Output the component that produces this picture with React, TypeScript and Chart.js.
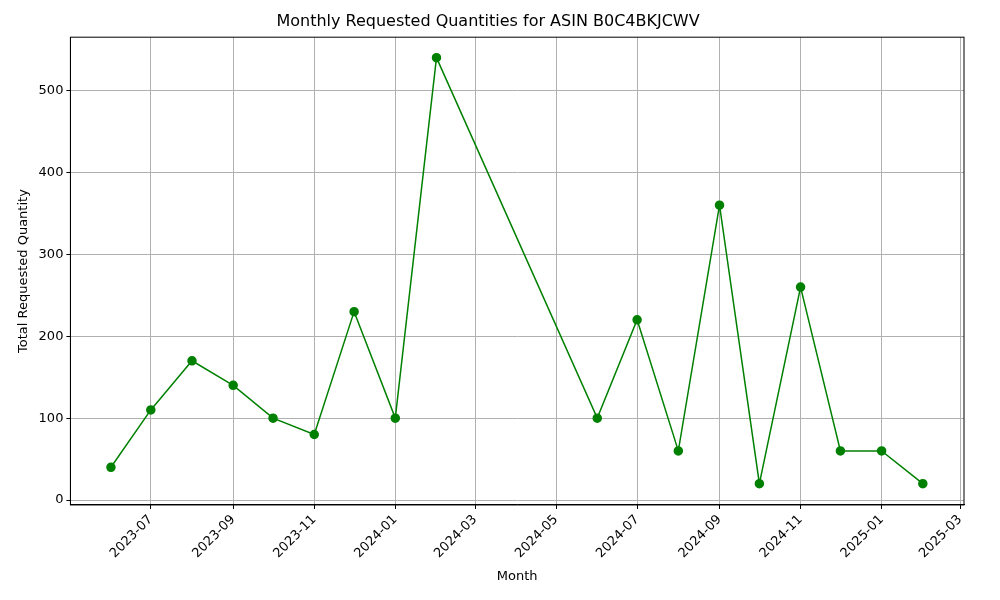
import React, { useEffect, useRef } from "react";
import Chart from "chart.js/auto";

const months = [
  "2023-06", "2023-07", "2023-08", "2023-09", "2023-10", "2023-11", "2023-12",
  "2024-01", "2024-02", "2024-06", "2024-07", "2024-08", "2024-09", "2024-10",
  "2024-11", "2024-12", "2025-01", "2025-02",
];
const quantities = [40, 110, 170, 140, 100, 80, 230, 100, 540, 100, 220, 60, 360, 20, 260, 60, 60, 20];
const tickLabels = [
  "2023-07", "2023-09", "2023-11", "2024-01", "2024-03", "2024-05",
  "2024-07", "2024-09", "2024-11", "2025-01", "2025-03",
];

const toDay = (m: string) => {
  const [y, mo] = m.split("-").map(Number);
  return Date.UTC(y, mo - 1, 1) / 86400000;
};

// matplotlib-style full frame around the plot area
const framePlugin = {
  id: "frame",
  afterDraw(chart: any) {
    const { ctx, chartArea: a } = chart;
    ctx.save();
    ctx.strokeStyle = "#000";
    ctx.lineWidth = 1;
    ctx.strokeRect(a.left, a.top, a.right - a.left, a.bottom - a.top);
    ctx.restore();
  },
};

const App: React.FC = () => {
  const canvasRef = useRef<HTMLCanvasElement | null>(null);

  useEffect(() => {
    if (!canvasRef.current) return;
    const font = { family: "DejaVu Sans", size: 13 };
    const tickDays = tickLabels.map(toDay);
    const chart = new Chart(canvasRef.current, {
      type: "line",
      data: {
        datasets: [
          {
            data: months.map((m, i) => ({ x: toDay(m), y: quantities[i] })),
            borderColor: "green",
            backgroundColor: "green",
            borderWidth: 1.5,
            pointRadius: 4,
            pointHoverRadius: 4,
            tension: 0,
          },
        ],
      },
      plugins: [framePlugin],
      options: {
        animation: false,
        responsive: false,
        layout: { padding: { left: 12, right: 36, top: 2, bottom: 12 } },
        plugins: {
          legend: { display: false },
          tooltip: { enabled: false },
          title: {
            display: true,
            text: "Monthly Requested Quantities for ASIN B0C4BKJCWV",
            color: "#000",
            font: { family: "DejaVu Sans", size: 16, weight: "normal" },
            padding: { top: 10, bottom: 6 },
          },
        },
        scales: {
          x: {
            type: "linear",
            min: toDay("2023-06") - 30.5,
            max: toDay("2025-02") + 31,
            afterBuildTicks: (axis: any) => {
              axis.ticks = tickDays.map((v) => ({ value: v }));
            },
            ticks: {
              color: "#000",
              font,
              maxRotation: 45,
              minRotation: 45,
              callback: (v: any) => {
                const i = tickDays.indexOf(Number(v));
                return i >= 0 ? tickLabels[i] : "";
              },
            },
            grid: { color: "#b0b0b0", tickColor: "#000", tickLength: 4 },
            border: { color: "#000" },
            title: { display: true, text: "Month", color: "#000", font },
          },
          y: {
            min: -6,
            max: 565,
            afterBuildTicks: (axis: any) => {
              axis.ticks = [0, 100, 200, 300, 400, 500].map((v) => ({ value: v }));
            },
            ticks: { color: "#000", font },
            grid: { color: "#b0b0b0", tickColor: "#000", tickLength: 4 },
            border: { color: "#000" },
            title: { display: true, text: "Total Requested Quantity", color: "#000", font },
          },
        },
      },
    });
    return () => chart.destroy();
  }, []);

  return (
    <div style={{ position: "fixed", left: 0, top: 0, width: 1000, height: 600, background: "#fff" }}>
      <canvas ref={canvasRef} width={1000} height={600}></canvas>
    </div>
  );
};

export default App;
